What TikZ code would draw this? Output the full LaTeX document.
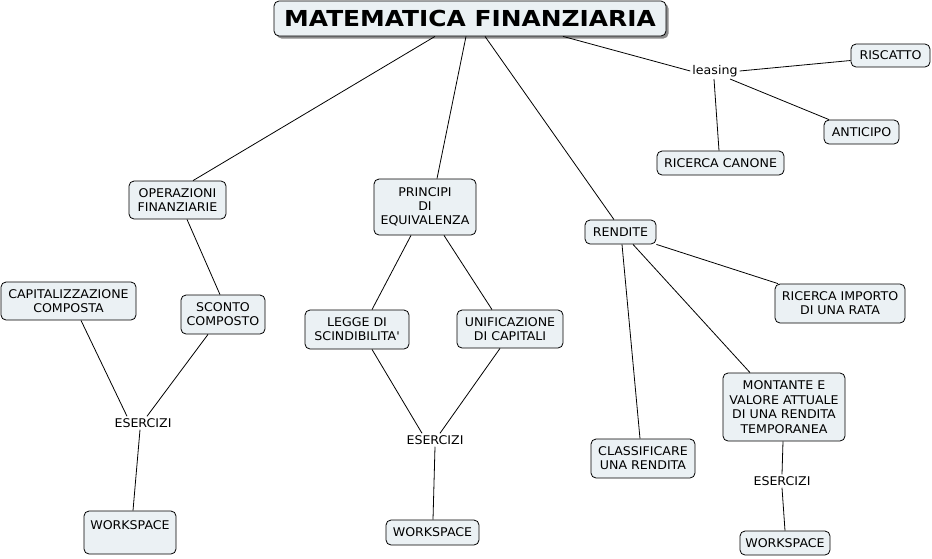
\documentclass[tikz,border=0pt]{standalone}
\usepackage{fontspec}
\setmainfont{DejaVu Sans}[FakeStretch=1.05]
\newfontfamily\titlefont{DejaVu Sans}[FakeStretch=1.13]
\usetikzlibrary{shadows}
\definecolor{boxfill}{HTML}{EBF1F4}
\begin{document}
\begin{tikzpicture}[x=1pt,y=-1pt,
  box/.style={draw=black, fill=boxfill, rounded corners=5pt, line width=0.8pt, inner sep=0pt, align=center, font=\fontsize{12}{14}\selectfont},
  lbl/.style={inner sep=2pt, font=\fontsize{12}{14}\selectfont},
  conn/.style={line width=0.8pt}]
\useasboundingbox (0,0) rectangle (932,558);
\fill[white] (0,0) rectangle (932,558);

% title
\node[box, drop shadow={shadow xshift=2.5pt, shadow yshift=-2.5pt, fill=black!45, opacity=1},
  minimum width=392pt, minimum height=35pt,
  font=\titlefont\bfseries\fontsize{22}{26}\selectfont] (t) at (470,18.5) {MATEMATICA FINANZIARIA};

% leasing branch
\node[lbl] (ls) at (715,71) {leasing};
\node[box, minimum width=79pt, minimum height=23pt] (ris) at (890.5,55.5) {RISCATTO};
\node[box, minimum width=75pt, minimum height=24pt] (ant) at (861.5,132) {ANTICIPO};
\node[box, minimum width=127pt, minimum height=24pt] (rc) at (720.5,163) {RICERCA CANONE};

% main nodes
\node[box, minimum width=97pt, minimum height=38pt] (op) at (177.5,200) {OPERAZIONI\\FINANZIARIE};
\node[box, minimum width=102pt, minimum height=56pt] (pe) at (425,207) {PRINCIPI\\DI\\EQUIVALENZA};
\node[box, minimum width=71pt, minimum height=24pt] (ren) at (620.5,232) {RENDITE};

% left branch
\node[box, minimum width=135pt, minimum height=38pt] (cap) at (68.5,301) {CAPITALIZZAZIONE\\COMPOSTA};
\node[box, minimum width=84pt, minimum height=39pt] (sc) at (223,314.5) {SCONTO\\COMPOSTO};
\node[lbl] (e1) at (143,423) {ESERCIZI};
\node[box, minimum width=92pt, text height=18pt, text depth=25pt] (wl) at (130,532.5) {WORKSPACE};

% middle branch
\node[box, minimum width=104pt, minimum height=39pt] (lg) at (357,329.5) {LEGGE DI\\SCINDIBILITA\textquotesingle};
\node[box, minimum width=106pt, minimum height=38pt] (uc) at (510,329) {UNIFICAZIONE\\DI CAPITALI};
\node[lbl] (e2) at (435,440) {ESERCIZI};
\node[box, minimum width=93pt, minimum height=25pt] (wm) at (432.5,532.5) {WORKSPACE};

% right branch
\node[box, minimum width=130pt, minimum height=39pt] (ri) at (840,303.5) {RICERCA IMPORTO\\DI UNA RATA};
\node[box, minimum width=122pt, minimum height=68pt, font=\fontsize{12}{14.5}\selectfont] (mv) at (784,407) {MONTANTE E\\VALORE ATTUALE\\DI UNA RENDITA\\TEMPORANEA};
\node[box, minimum width=104pt, minimum height=39pt] (cl) at (643,458.5) {CLASSIFICARE\\UNA RENDITA};
\node[lbl] (e3) at (782,481) {ESERCIZI};
\node[box, minimum width=90pt, minimum height=24pt] (wr) at (785,543) {WORKSPACE};

% connectors from title
\draw[conn] ([xshift=-35pt]t.south) -- ([xshift=15.5pt]op.north);
\draw[conn] ([xshift=-4pt]t.south) -- ([xshift=12pt]pe.north);
\draw[conn] ([xshift=15pt]t.south) -- ([xshift=-6.5pt]ren.north);
\draw[conn] ([xshift=93pt]t.south) -- (ls.west);

% leasing
\draw[conn] (ls.east) -- ([yshift=-5pt]ris.west);
\draw[conn] ([xshift=15pt]ls.south) -- ([xshift=-32.5pt]ant.north);
\draw[conn] ([xshift=-1pt]ls.south) -- ([xshift=-1.5pt]rc.north);

% left
\draw[conn] ([xshift=9.5pt]op.south) -- ([xshift=-3pt]sc.north);
\draw[conn] ([xshift=-15pt]sc.south) -- ([xshift=4pt]e1.north);
\draw[conn] ([xshift=12.5pt]cap.south) -- ([xshift=-16pt]e1.north);
\draw[conn] ([xshift=-3pt]e1.south) -- ([xshift=3pt]wl.north);

% middle
\draw[conn] ([xshift=-14pt]pe.south) -- ([xshift=15pt]lg.north);
\draw[conn] ([xshift=19pt]pe.south) -- ([xshift=-18pt]uc.north);
\draw[conn] ([xshift=15pt]lg.south) -- ([xshift=-13pt]e2.north);
\draw[conn] ([xshift=-10pt]uc.south) -- ([xshift=5pt]e2.north);
\draw[conn] (e2.south) -- ([xshift=0.5pt]wm.north);

% right
\draw[conn] (ren.south east) -- ([xshift=-62pt]ri.north);
\draw[conn] ([xshift=12.5pt]ren.south) -- ([xshift=-34pt]mv.north);
\draw[conn] ([xshift=1.5pt]ren.south) -- ([xshift=-3pt]cl.north);
\draw[conn] ([xshift=-1pt]mv.south) -- (e3.north);
\draw[conn] (e3.south) -- (wr.north);
\end{tikzpicture}
\end{document}
